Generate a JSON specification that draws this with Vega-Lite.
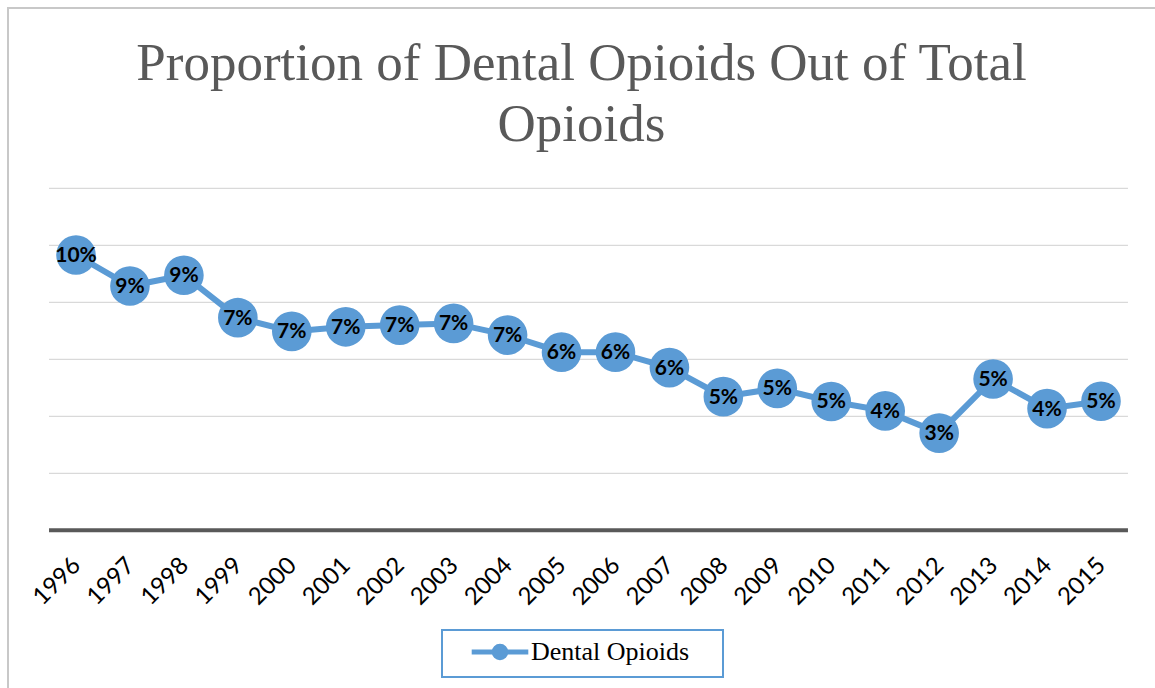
{
  "$schema": "https://vega.github.io/schema/vega-lite/v6.json",
  "width": 1147,
  "height": 680,
  "autosize": {"type": "none"},
  "padding": {"left": 8, "top": 8, "right": 0, "bottom": 0},
  "background": "white",
  "title": {
    "text": ["Proportion of Dental Opioids Out of Total", "Opioids"],
    "anchor": "middle",
    "frame": "group",
    "font": "Liberation Serif",
    "fontSize": 53,
    "fontWeight": "normal",
    "color": "#595959",
    "lineHeight": 61,
    "baseline": "alphabetic",
    "offset": -113,
    "dy": 73
  },
  "config": {
    "view": {"stroke": "#c8c8c8", "strokeWidth": 2, "strokeDash": [1147, 1827, 680]}
  },
  "datasets": {
    "series": [
      {"year": 1996, "value": 0.0966},
      {"year": 1997, "value": 0.0857},
      {"year": 1998, "value": 0.0895},
      {"year": 1999, "value": 0.0746},
      {"year": 2000, "value": 0.0698},
      {"year": 2001, "value": 0.0714},
      {"year": 2002, "value": 0.0720},
      {"year": 2003, "value": 0.0726},
      {"year": 2004, "value": 0.0685},
      {"year": 2005, "value": 0.0625},
      {"year": 2006, "value": 0.0625},
      {"year": 2007, "value": 0.0571},
      {"year": 2008, "value": 0.0469},
      {"year": 2009, "value": 0.0498},
      {"year": 2010, "value": 0.0452},
      {"year": 2011, "value": 0.0419},
      {"year": 2012, "value": 0.0341},
      {"year": 2013, "value": 0.0531},
      {"year": 2014, "value": 0.0427},
      {"year": 2015, "value": 0.0453}
    ],
    "gridlines": [
      {"g": 0}, {"g": 0.02}, {"g": 0.04}, {"g": 0.06}, {"g": 0.08}, {"g": 0.1}, {"g": 0.12}
    ]
  },
  "layer": [
    {
      "data": {"name": "gridlines"},
      "mark": {"type": "rule"},
      "encoding": {
        "y": {"field": "g", "type": "quantitative", "scale": {"domain": [-0.055333, 0.183263], "nice": false, "zero": false}, "axis": null},
        "x": {"datum": 1995.5, "type": "quantitative"},
        "x2": {"datum": 2015.5},
        "stroke": {"condition": {"test": "datum.g === 0", "value": "#595959"}, "value": "#d9d9d9"},
        "strokeWidth": {"condition": {"test": "datum.g === 0", "value": 4}, "value": 1.3}
      }
    },
    {
      "data": {"name": "series"},
      "encoding": {
        "x": {
          "field": "year",
          "type": "quantitative",
          "scale": {"domain": [1994.7395, 2016.0011], "nice": false, "zero": false},
          "axis": {
            "orient": "bottom",
            "offset": -158,
            "values": [1996, 1997, 1998, 1999, 2000, 2001, 2002, 2003, 2004, 2005, 2006, 2007, 2008, 2009, 2010, 2011, 2012, 2013, 2014, 2015],
            "format": "d",
            "domain": false,
            "ticks": false,
            "grid": false,
            "title": null,
            "labelAngle": -45,
            "labelFont": "Lato",
            "labelFontSize": 24,
            "labelColor": "#000000",
            "labelPadding": 23,
            "labelOffset": -8,
            "labelFlush": false,
            "labelOverlap": false
          }
        },
        "y": {
          "field": "value",
          "type": "quantitative",
          "scale": {"domain": [-0.055333, 0.183263], "nice": false, "zero": false},
          "axis": null
        }
      },
      "layer": [
        {
          "mark": {"type": "line", "strokeWidth": 6},
          "encoding": {
            "color": {
              "datum": "Dental Opioids",
              "type": "nominal",
              "scale": {"range": ["#5B9BD5"]},
              "legend": {
                "title": null,
                "orient": "none",
                "legendX": 434,
                "legendY": 622,
                "padding": 9,
                "strokeColor": "#5B9BD5",
                "symbolType": "M-5.66,0H5.66M0.5,0A0.5,0.5 0 1 1 -0.5,0A0.5,0.5 0 1 1 0.5,0M1.16,0A1.16,1.16 0 1 1 -1.16,0A1.16,1.16 0 1 1 1.16,0M40.7,0",
                "symbolSize": 100,
                "symbolStrokeWidth": 5,
                "symbolStrokeColor": "#5B9BD5",
                "symbolOffset": 36,
                "labelOffset": 18,
                "labelFont": "Liberation Serif",
                "labelFontSize": 26,
                "labelColor": "#000000",
                "labelLimit": 0,
                "encode": {
                  "legend": {
                    "update": {
                      "strokeWidth": {"value": 2}
                    }
                  },
                  "symbols": {
                    "update": {
                      "stroke": {"value": "#5B9BD5"},
                      "strokeWidth": {"value": 5},
                      "opacity": {"value": 1}
                    }
                  }
                }
              }
            }
          }
        },
        {
          "mark": {"type": "circle", "size": 1570, "opacity": 1, "color": "#5B9BD5"}
        },
        {
          "mark": {"type": "text", "font": "Lato", "fontWeight": "bold", "fontSize": 21, "color": "#000000", "baseline": "middle", "dy": 1},
          "encoding": {
            "text": {"field": "value", "type": "quantitative", "format": ".0%"}
          }
        }
      ]
    }
  ]
}
